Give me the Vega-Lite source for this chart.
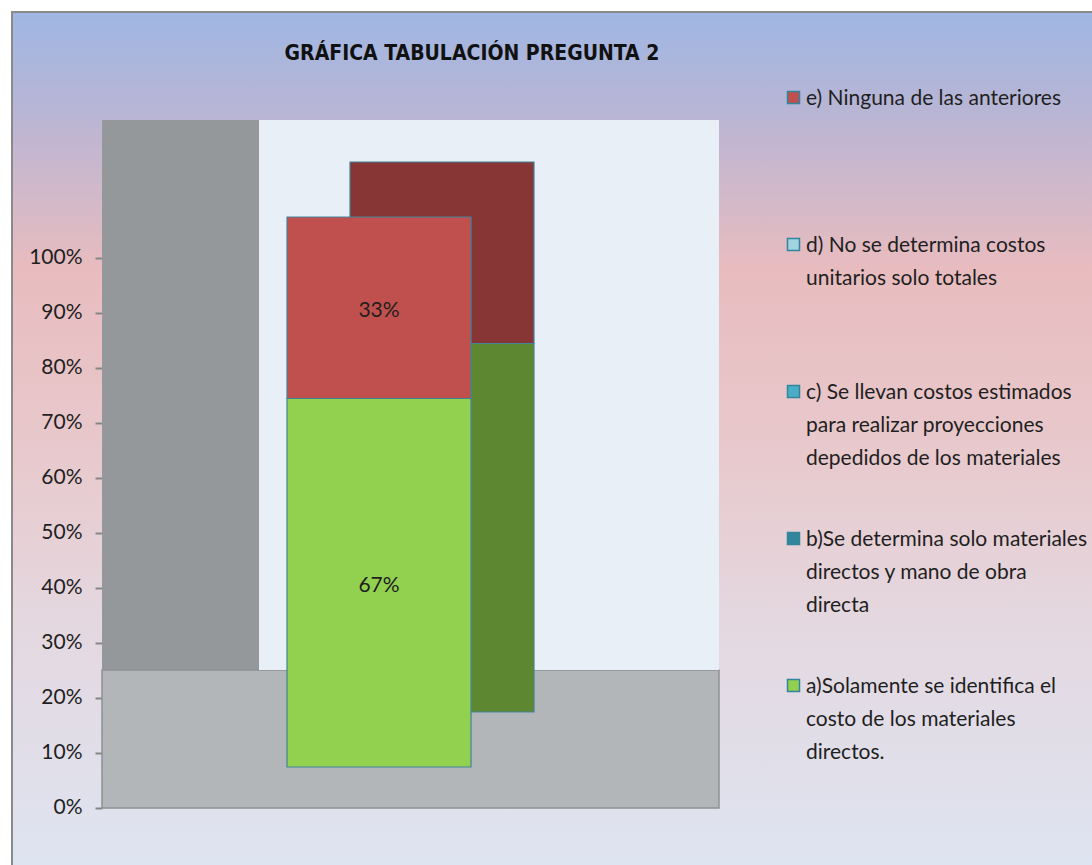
{
  "$schema": "https://vega.github.io/schema/vega-lite/v6.json",
  "autosize": {"type": "none"},
  "padding": {"left": 12, "top": 12, "right": 0, "bottom": 0},
  "width": 1082,
  "height": 855,
  "background": "#ffffff",
  "title": {
    "text": "GRÁFICA TABULACIÓN PREGUNTA 2",
    "font": "DejaVu Sans Condensed, Liberation Sans Narrow, Roboto, sans-serif",
    "fontSize": 21,
    "fontWeight": "bold",
    "color": "#111111",
    "anchor": "middle",
    "frame": "group",
    "baseline": "alphabetic",
    "offset": -69,
    "dx": -81
  },
  "datasets": {
    "respuestas": [
      {"pregunta": "Pregunta 2", "respuesta": "a)Solamente se identifica el costo de los materiales directos.", "valor": 0.67},
      {"pregunta": "Pregunta 2", "respuesta": "b)Se determina solo materiales directos y mano de obra directa", "valor": 0},
      {"pregunta": "Pregunta 2", "respuesta": "c) Se llevan costos estimados para realizar proyecciones depedidos de los materiales", "valor": 0},
      {"pregunta": "Pregunta 2", "respuesta": "d) No se determina costos unitarios solo totales", "valor": 0},
      {"pregunta": "Pregunta 2", "respuesta": "e) Ninguna de las anteriores", "valor": 0.33}
    ]
  },
  "config": {
    "font": "Lato",
    "view": {
      "fill": {
        "gradient": "linear", "x1": 0, "y1": 0, "x2": 0, "y2": 1,
        "stops": [
          {"offset": 0, "color": "#9fb7e3"},
          {"offset": 0.12, "color": "#b9b5d4"},
          {"offset": 0.3, "color": "#e8bcbf"},
          {"offset": 0.5, "color": "#e8c8cb"},
          {"offset": 0.72, "color": "#e4d8e0"},
          {"offset": 1, "color": "#dee4f1"}
        ]
      },
      "stroke": "#8a8a8a",
      "strokeWidth": 2
    }
  },
  "layer": [
    {
      "data": {"values": [{}]},
      "mark": {"type": "bar", "color": "#95989b", "width": {"band": 0.3413}, "xOffset": -151.5, "yOffset": -138},
      "encoding": {
        "x": {"datum": "Pregunta 2", "type": "nominal", "axis": null,
              "scale": {"type": "band", "paddingInner": 0, "paddingOuter": 0.67609, "align": 0.144695}},
        "y": {"datum": 1, "type": "quantitative", "title": null,
              "scale": {"domain": [-0.10728, 1.44727], "nice": false, "zero": false},
              "axis": {"orient": "left", "offset": -90, "values": [0, 0.1, 0.2, 0.3, 0.4, 0.5, 0.6, 0.7, 0.8, 0.9, 1],
                       "format": ".0%", "domain": false, "grid": false, "tickSize": 7, "tickColor": "#868686",
                       "tickWidth": 2, "labelFont": "Lato", "labelFontSize": 21, "labelColor": "#1f1f1f",
                       "labelPadding": 13, "title": null}},
        "y2": {"datum": 0}
      }
    },
    {
      "data": {"values": [{}]},
      "mark": {"type": "bar", "color": "#b3b6b9", "stroke": "#8f9194", "strokeWidth": 1.5, "width": {"band": 1.3413}, "xOffset": 78.5, "y2Offset": -138},
      "encoding": {
        "x": {"datum": "Pregunta 2", "type": "nominal"},
        "y": {"datum": 0, "type": "quantitative"},
        "y2": {"datum": 0}
      }
    },
    {
      "data": {"values": [{}]},
      "mark": {"type": "bar", "color": "#e9eff7", "width": {"band": 1}, "xOffset": 157, "yOffset": -138, "y2Offset": -138},
      "encoding": {
        "x": {"datum": "Pregunta 2", "type": "nominal"},
        "y": {"datum": 1, "type": "quantitative"},
        "y2": {"datum": 0}
      }
    },
    {
      "data": {"name": "respuestas"},
      "transform": [{"filter": "datum.valor > 0"}],
      "mark": {"type": "bar", "width": {"band": 0.4}, "xOffset": 110, "yOffset": -96, "y2Offset": -96, "stroke": "#41849a", "strokeWidth": 1.2},
      "encoding": {
        "x": {"field": "pregunta", "type": "nominal"},
        "y": {"field": "valor", "type": "quantitative", "stack": "zero"},
        "order": {"field": "respuesta", "sort": "ascending"},
        "fill": {"field": "respuesta", "type": "nominal", "legend": null,
                 "scale": {"domain": ["a)Solamente se identifica el costo de los materiales directos.", "e) Ninguna de las anteriores"],
                           "range": ["#5e8732", "#873635"]}}
      }
    },
    {
      "data": {"name": "respuestas"},
      "transform": [{"filter": "datum.valor > 0"}],
      "mark": {"type": "bar", "width": {"band": 0.4}, "xOffset": 47, "yOffset": -41, "y2Offset": -41, "stroke": "#41849a", "strokeWidth": 1.2},
      "encoding": {
        "x": {"field": "pregunta", "type": "nominal"},
        "y": {"field": "valor", "type": "quantitative", "stack": "zero"},
        "order": {"field": "respuesta", "sort": "ascending"},
        "color": {
          "field": "respuesta", "type": "nominal",
          "scale": {
            "domain": [
              "e) Ninguna de las anteriores",
              "d) No se determina costos unitarios solo totales",
              "c) Se llevan costos estimados para realizar proyecciones depedidos de los materiales",
              "b)Se determina solo materiales directos y mano de obra directa",
              "a)Solamente se identifica el costo de los materiales directos."
            ],
            "range": ["#c0504d", "#a2d3e1", "#4bacc6", "#31859c", "#92d050"]
          },
          "legend": {
            "orient": "none", "legendX": 771, "legendY": 75, "title": null, "padding": 0,
            "symbolType": "square", "symbolSize": 144, "symbolStrokeColor": "#31859c", "symbolStrokeWidth": 1.5,
            "symbolOpacity": 1,
            "labelFont": "Lato", "labelFontSize": 21, "labelColor": "#1f1f1f", "labelLimit": 400,
            "labelOffset": 2, "labelBaseline": "alphabetic", "gridAlign": "all", "rowPadding": 59,
            "labelExpr": "substring(datum.label,0,1)=='a' ? ['a)Solamente se identifica el','costo de los materiales','directos.'] : substring(datum.label,0,1)=='b' ? ['b)Se determina solo materiales','directos y mano de obra','directa'] : substring(datum.label,0,1)=='c' ? ['c) Se llevan costos estimados','para realizar proyecciones','depedidos de los materiales'] : substring(datum.label,0,1)=='d' ? ['d) No se determina costos','unitarios solo totales'] : datum.label",
            "encode": {
              "labels": {"update": {"dy": {"value": 7}, "lineHeight": {"value": 33}}},
              "symbols": {"update": {"stroke": {"value": "#31859c"}, "strokeWidth": {"value": 1.5}}}
            }
          }
        }
      }
    },
    {
      "data": {"name": "respuestas"},
      "transform": [
        {"filter": "datum.valor > 0"},
        {"stack": "valor", "groupby": ["pregunta"], "sort": [{"field": "respuesta", "order": "ascending"}], "as": ["v0", "v1"]},
        {"fold": ["v0", "v1"], "as": ["lado", "pos"]},
        {"aggregate": [{"op": "mean", "field": "pos", "as": "mid"}, {"op": "max", "field": "valor", "as": "valor"}], "groupby": ["pregunta", "respuesta"]}
      ],
      "mark": {"type": "text", "font": "Lato", "fontSize": 21, "color": "#1f1f1f", "baseline": "middle", "align": "center", "xOffset": 47, "yOffset": -38},
      "encoding": {
        "x": {"field": "pregunta", "type": "nominal"},
        "y": {"field": "mid", "type": "quantitative"},
        "text": {"field": "valor", "type": "quantitative", "format": ".0%"}
      }
    }
  ]
}
